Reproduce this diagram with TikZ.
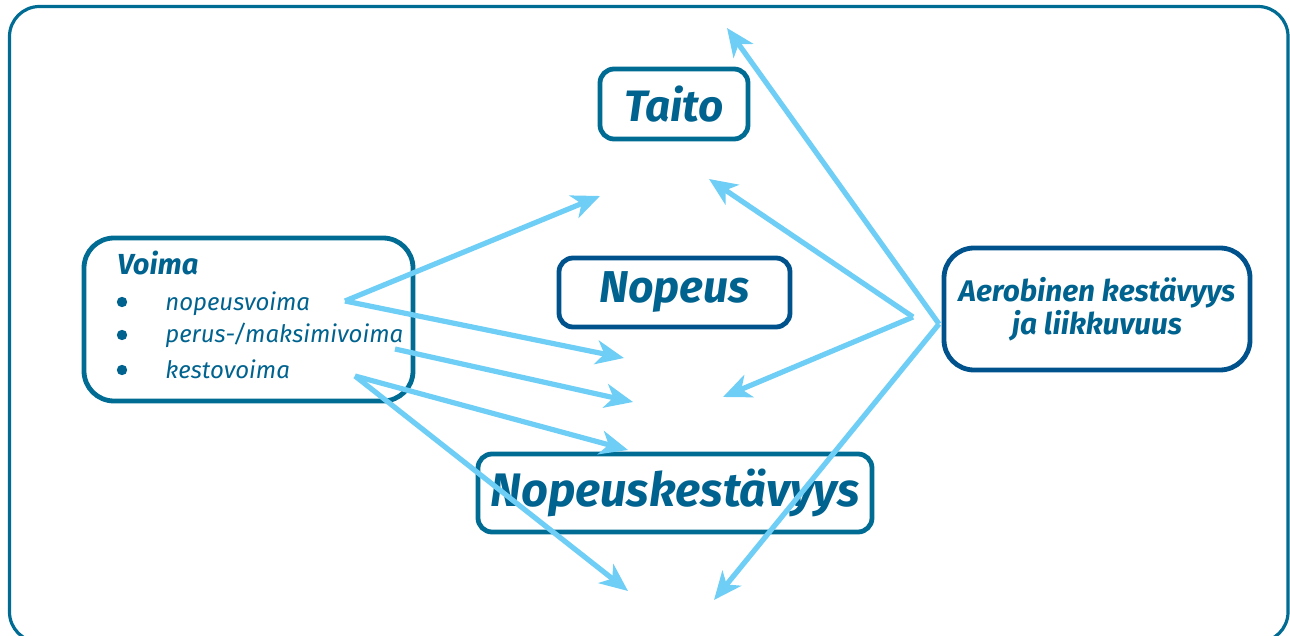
\documentclass[tikz,border=0pt]{standalone}
\usepackage{fontspec}
\setmainfont{Fira Sans}
\usetikzlibrary{arrows.meta}
\definecolor{frameteal}{RGB}{0,108,148}
\definecolor{boxblue}{RGB}{0,82,140}
\definecolor{labelblue}{RGB}{0,98,142}
\definecolor{arrowsky}{RGB}{110,206,245}

\begin{document}
\begin{tikzpicture}[x=0.5pt,y=-0.5pt,
    box/.style={draw=frameteal,line width=2.4pt,rounded corners=7pt,inner sep=0pt,
      text=labelblue,font=\fontsize{22}{26}\selectfont\bfseries\itshape},
    bigbox/.style={box,rounded corners=15pt},
    arr/.style={-{Stealth[length=14pt,width=12pt,inset=4pt]},arrowsky,line width=2.6pt},
    item/.style={anchor=base west,text=labelblue,inner sep=0pt,font=\fontsize{12}{14}\selectfont\itshape}]
  \useasboundingbox (0,0) rectangle (1290,636);
  \clip (0,0) rectangle (1290,636);
  % outer frame
  \draw[frameteal,line width=1.6pt,rounded corners=15pt] (9.5,6.5) rectangle (1288,642);

  % the four qualities
  \node[box,minimum width=74pt,minimum height=35pt] (taito) at (674,104) {Taito};
  \node[box,draw=boxblue,minimum width=115.5pt,minimum height=34.5pt,
    font=\fontsize{22.3}{26}\selectfont\bfseries\itshape] (nopeus) at (674.5,292.5) {Nopeus};
  \node[box,minimum width=197pt,minimum height=39pt,
    font=\fontsize{23.5}{28}\selectfont\bfseries\itshape] (nkest) at (675,493) {Nopeuskestävyys};
  \node[bigbox,draw=boxblue,minimum width=153pt,minimum height=61pt,align=center,
    font=\fontsize{14.9}{16.5}\selectfont\bfseries\itshape] (aero) at (1097,309)
    {Aerobinen kestävyys\\ja liikkuvuus};

  % Voima with its list
  \node[bigbox,minimum width=164.5pt,minimum height=81.5pt] (voima) at (248.5,319.5) {};
  \node[item,font=\fontsize{14.5}{16}\selectfont\bfseries\itshape] (voimaT) at (117,275) {Voima};
  \foreach \y/\t/\n in {310/nopeusvoima/i1,343/{perus-/maksimivoima}/i2,378/kestovoima/i3}{
    \fill[labelblue] (122,\y-8) circle (2.6pt);
    \node[item] (\n) at (165,\y) {\t};
  }

  % arrow ends
  \coordinate (nvoima) at (345,301);
  \coordinate (mvoima) at (395,349);
  \coordinate (kvoima) at (355,376);
  \coordinate (aeroA) at (913,317);
  \coordinate (aeroB) at (939,324);
  \coordinate (gapTopL) at (600,196);
  \coordinate (gapMidL) at (624,358);
  \coordinate (gapLowL) at (633,402);
  \coordinate (nkTop) at (628,450);
  \coordinate (bottomL) at (628,591);
  \coordinate (gapTopR) at (709,179);
  \coordinate (gapMidR) at (723,397);
  \coordinate (topR) at (727,28);
  \coordinate (bottomR) at (714,600);

  \foreach \a/\b in {nvoima/gapTopL,nvoima/gapMidL,mvoima/gapLowL,kvoima/nkTop,kvoima/bottomL,
      aeroA/gapTopR,aeroA/gapMidR,aeroB/topR,aeroB/bottomR}
    \draw[arr] (\a) -- (\b);
\end{tikzpicture}
\end{document}
